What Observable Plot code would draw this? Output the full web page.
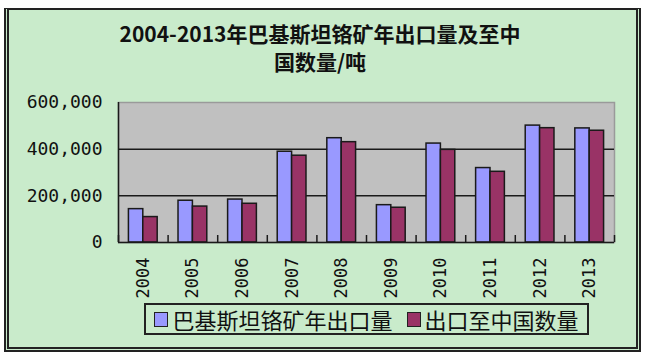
<!DOCTYPE html>
<html>
<head>
<meta charset="utf-8">
<script src="https://cdn.jsdelivr.net/npm/d3@7"></script>
<script src="https://cdn.jsdelivr.net/npm/@observablehq/plot@0.6"></script>
<style>
  body { margin: 0; background: #fff; }
  #wrap { position: relative; width: 645px; height: 359px; overflow: hidden; }
  #frame { position: absolute; left: 4px; top: 8px; width: 637px; height: 344px; box-sizing: border-box;
           background: #C9EBCB; border: 5px double #222; border-top: 2px solid #222; }
  #title { position: absolute; left: 0; top: 19px; width: 640px; text-align: center;
           font-family: "Noto Sans CJK SC", sans-serif; font-weight: bold; font-size: 21px; line-height: 28px; color: #111; }
  #plot { position: absolute; left: 0; top: 0; }
  #legend { position: absolute; left: 144px; top: 303px; width: 445px; height: 32px; box-sizing: border-box;
            border: 2px solid #222; display: flex; align-items: center; justify-content: center;
            font-family: "Noto Sans CJK SC", sans-serif; font-size: 22px; color: #111; }
  .sw { display: inline-block; width: 12px; height: 13px; border: 1.5px solid #222; margin-right: 4px; }
  .item { display: flex; align-items: center; }
  .item + .item { margin-left: 14px; }
</style>
</head>
<body>
<div id="wrap">
  <div id="frame"></div>
  <div id="title"></div>
  <div id="plot"></div>
  <div id="legend"></div>
</div>
<script>
const titleLines = ["2004-2013年巴基斯坦铬矿年出口量及至中", "国数量/吨"];
const years = [2004, 2005, 2006, 2007, 2008, 2009, 2010, 2011, 2012, 2013];
const exportTotal = [143000, 179000, 184000, 389000, 447000, 160000, 424000, 319000, 501000, 489000];
const exportChina = [109000, 154000, 166000, 372000, 430000, 149000, 397000, 303000, 490000, 479000];
const seriesNames = ["巴基斯坦铬矿年出口量", "出口至中国数量"];
const seriesColors = ["#9999FF", "#993366"];
const yTicks = [0, 200000, 400000, 600000];

document.getElementById("title").innerHTML = titleLines.join("<br>");

const data = [];
years.forEach((yr, i) => {
  data.push({year: yr, series: 0, value: exportTotal[i]});
  data.push({year: yr, series: 1, value: exportChina[i]});
});
const barW = 0.29; // fraction of a category
const boundaries = [...years.map(y => y - 0.5), years[years.length - 1] + 0.5];
const dark = "#1a1a1a";

const chart = Plot.plot({
  width: 645,
  height: 359,
  marginLeft: 118,
  marginRight: 31,
  marginTop: 102,
  marginBottom: 117,
  style: {background: "transparent", color: "#111", overflow: "visible"},
  x: {domain: [years[0] - 0.5, years[years.length - 1] + 0.5]},
  y: {domain: [0, 600000]},
  color: {domain: [0, 1], range: seriesColors},
  marks: [
    Plot.frame({fill: "#C0C0C0", stroke: "#9a9a9a", strokeWidth: 1.5}),
    Plot.ruleY([200000, 400000], {stroke: dark, strokeWidth: 1.5}),
    Plot.rect(data, {
      x1: d => d.year - barW + d.series * barW,
      x2: d => d.year + d.series * barW,
      y1: 0,
      y2: "value",
      fill: d => seriesColors[d.series],
      stroke: dark,
      strokeWidth: 1.5
    }),
    Plot.ruleY([0], {stroke: dark, strokeWidth: 1.5}),
    Plot.ruleX([boundaries[0]], {stroke: dark, strokeWidth: 1.5}),
    Plot.axisX(boundaries, {tickSize: -7, stroke: dark, strokeWidth: 1.5, tickFormat: () => "", label: null}),
    Plot.axisY(yTicks, {tickSize: 0, tickPadding: 16, tickFormat: d3.format(","), fontSize: 18,
                        fontFamily: "DejaVu Sans Mono", label: null}),
    Plot.axisX(years, {tickSize: 0, tickPadding: 15, tickRotate: -90, tickFormat: d => String(d),
                       fontSize: 17, fontFamily: "DejaVu Sans Mono", label: null})
  ]
});
document.getElementById("plot").appendChild(chart);

const legend = document.getElementById("legend");
seriesNames.forEach((name, i) => {
  const item = document.createElement("span");
  item.className = "item";
  const sw = document.createElement("span");
  sw.className = "sw";
  sw.style.background = seriesColors[i];
  item.appendChild(sw);
  item.appendChild(document.createTextNode(name));
  legend.appendChild(item);
});
</script>
</body>
</html>
